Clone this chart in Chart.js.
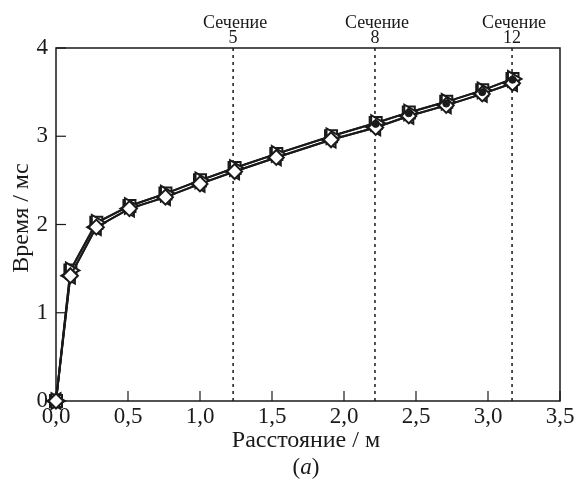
<!DOCTYPE html>
<html>
<head>
<meta charset="utf-8">
<script src="https://cdn.jsdelivr.net/npm/chart.js@4/dist/chart.umd.min.js"></script>
<style>
  html, body { margin: 0; padding: 0; background: #fff; }
  #wrap { width: 579px; height: 492px; }
</style>
</head>
<body>
<div id="wrap"><canvas id="timeChart" width="579" height="492"></canvas></div>
<script>
// Данные
const distance = [0, 0.1, 0.28, 0.51, 0.76, 1.0, 1.24, 1.53, 1.91, 2.22, 2.45, 2.71, 2.96, 3.17];
const timeUpper = [0, 1.48, 2.02, 2.21, 2.35, 2.50, 2.64, 2.80, 3.00, 3.15, 3.27, 3.39, 3.52, 3.65];
const timeLower = [0, 1.42, 1.97, 2.18, 2.31, 2.46, 2.60, 2.76, 2.96, 3.10, 3.23, 3.35, 3.48, 3.60];
const dotDistance = [2.22, 2.45, 2.71, 2.96, 3.17];
const dotTime = [3.14, 3.26, 3.37, 3.50, 3.64];
const sectionPos = [1.23, 2.215, 3.167];
const sectionNames = ['5', '8', '12'];
const xTicks = [0, 0.5, 1.0, 1.5, 2.0, 2.5, 3.0, 3.5];
const yTicks = [0, 1, 2, 3, 4];

const serif = '"Liberation Serif", "DejaVu Serif", serif';
const ink = '#1a1a1a';

function points(xs, ys) {
  return xs.map((x, i) => ({ x: x, y: ys[i] }));
}

function series(ys, style, radius, rotation) {
  return {
    data: points(distance, ys),
    showLine: true,
    clip: false,
    borderColor: ink,
    borderWidth: 2,
    pointStyle: style,
    pointRadius: radius,
    pointRotation: rotation || 0,
    pointBorderWidth: 2,
    pointBorderColor: ink,
    pointBackgroundColor: '#fff'
  };
}

// Рамка, внутренние засечки, сечения и подписи
const decorPlugin = {
  id: 'decor',
  beforeDatasetsDraw(chart) {
    const ctx = chart.ctx;
    const a = chart.chartArea;
    const xs = chart.scales.x;
    const ys = chart.scales.y;
    ctx.save();

    // сечения
    ctx.strokeStyle = ink;
    ctx.lineWidth = 1.5;
    ctx.setLineDash([3, 4]);
    sectionPos.forEach(p => {
      const px = xs.getPixelForValue(p);
      ctx.beginPath();
      ctx.moveTo(px, a.top);
      ctx.lineTo(px, a.bottom);
      ctx.stroke();
    });
    ctx.setLineDash([]);

    // рамка
    ctx.lineWidth = 1.5;
    ctx.strokeRect(a.left, a.top, a.right - a.left, a.bottom - a.top);

    // засечки внутрь
    ctx.lineWidth = 1.2;
    xTicks.forEach(v => {
      const px = xs.getPixelForValue(v);
      ctx.beginPath();
      ctx.moveTo(px, a.bottom);
      ctx.lineTo(px, a.bottom - 10);
      ctx.stroke();
    });
    yTicks.forEach(v => {
      const py = ys.getPixelForValue(v);
      ctx.beginPath();
      ctx.moveTo(a.left, py);
      ctx.lineTo(a.left + 10, py);
      ctx.stroke();
    });

    // подписи сечений
    ctx.fillStyle = ink;
    ctx.textAlign = 'center';
    ctx.textBaseline = 'alphabetic';
    ctx.font = '18px ' + serif;
    sectionPos.forEach((p, i) => {
      const px = xs.getPixelForValue(p);
      ctx.fillText('Сечение', px + 2, 28);
      ctx.fillText(sectionNames[i], px, 43);
    });

    // подписи осей
    ctx.font = '24px ' + serif;
    ctx.textBaseline = 'middle';
    ctx.fillText('Расстояние / м', (a.left + a.right) / 2 - 2, 441);

    ctx.save();
    ctx.translate(22, 218);
    ctx.rotate(-Math.PI / 2);
    ctx.fillText('Время / мс', 0, 0);
    ctx.restore();

    // (a)
    const cx = (a.left + a.right) / 2 - 2;
    ctx.font = '23px ' + serif;
    const pw = ctx.measureText('(').width;
    ctx.font = 'italic 23px ' + serif;
    const aw = ctx.measureText('a').width;
    const start = cx - (pw * 2 + aw) / 2;
    ctx.textAlign = 'left';
    ctx.font = '23px ' + serif;
    ctx.fillText('(', start, 468);
    ctx.font = 'italic 23px ' + serif;
    ctx.fillText('a', start + pw, 468);
    ctx.font = '23px ' + serif;
    ctx.fillText(')', start + pw + aw, 468);

    ctx.restore();
  }
};

new Chart(document.getElementById('timeChart').getContext('2d'), {
  type: 'scatter',
  data: {
    datasets: [
      {
        data: points(dotDistance, dotTime),
        showLine: false,
        clip: false,
        pointStyle: 'circle',
        pointRadius: 3.5,
        pointBackgroundColor: ink,
        pointBorderColor: ink
      },
      series(timeLower, 'rectRot', 7.5),
      series(timeUpper, 'triangle', 9, 90),
      series(timeUpper, 'rect', 8.5),
      series(timeLower, 'triangle', 9, -90)
    ]
  },
  options: {
    responsive: false,
    animation: false,
    devicePixelRatio: 1,
    layout: { padding: { left: 0, right: 19, top: 48, bottom: 0 } },
    plugins: {
      legend: { display: false },
      tooltip: { enabled: false }
    },
    scales: {
      x: {
        type: 'linear',
        min: 0,
        max: 3.5,
        afterFit(scale) { scale.height = 91; },
        afterBuildTicks(scale) { scale.ticks = xTicks.map(v => ({ value: v })); },
        grid: { display: false, drawTicks: false },
        border: { display: false },
        ticks: {
          color: ink,
          padding: 2,
          maxRotation: 0,
          font: { family: serif, size: 23 },
          callback: v => v.toFixed(1).replace('.', ',')
        }
      },
      y: {
        min: 0,
        max: 4,
        afterFit(scale) { scale.width = 56; },
        afterBuildTicks(scale) { scale.ticks = yTicks.map(v => ({ value: v })); },
        grid: { display: false, drawTicks: false },
        border: { display: false },
        ticks: {
          color: ink,
          padding: 8,
          font: { family: serif, size: 23 },
          callback: v => String(v)
        }
      }
    }
  },
  plugins: [decorPlugin]
});
</script>
</body>
</html>
